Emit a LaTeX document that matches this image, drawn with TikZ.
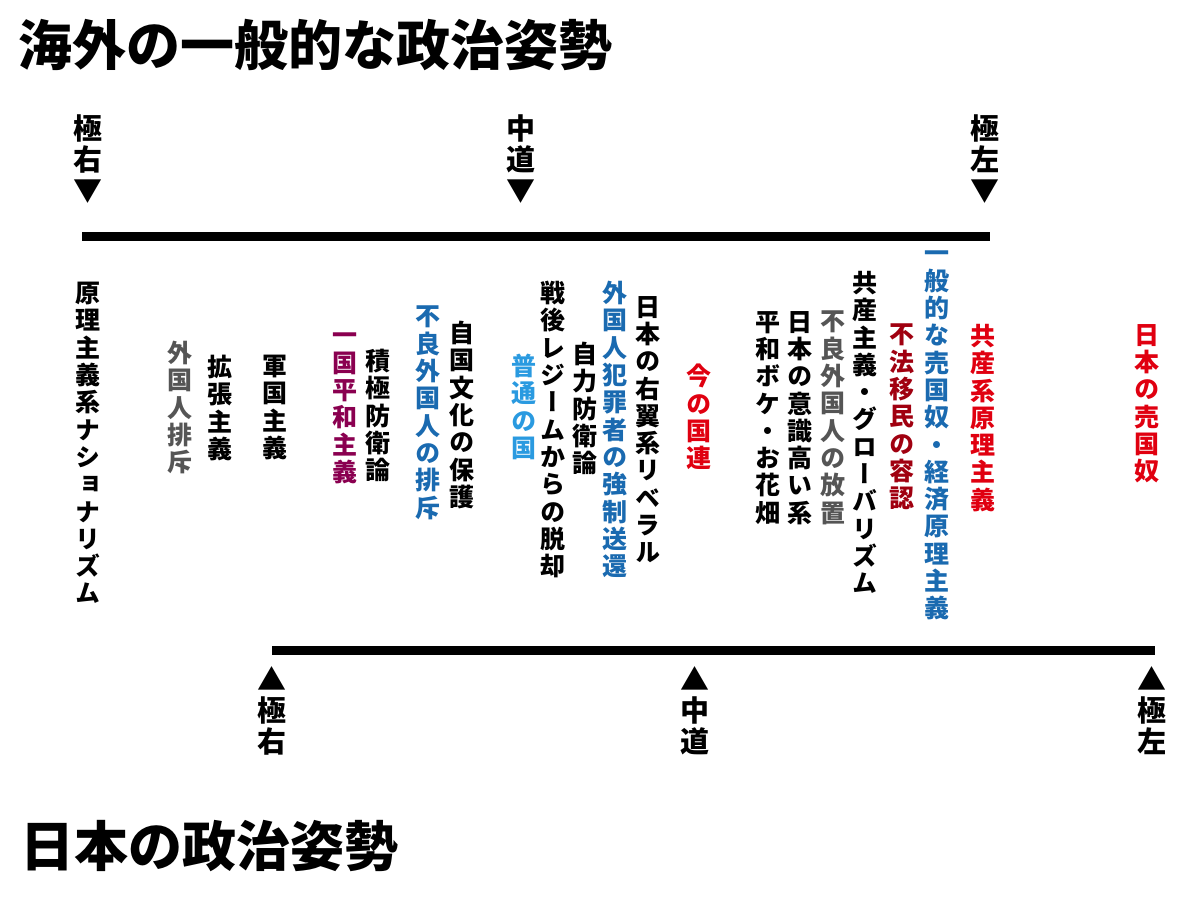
\documentclass[tikz,border=0pt]{standalone}
\usepackage{fontspec}
\newfontfamily\vfont[RawFeature=+vert]{Noto Sans CJK JP}
\newfontfamily\jfont{Noto Sans CJK JP}
\def\vt#1{\vtaux#1\relax}
\def\vtaux#1{#1\futurelet\vtnext\vtcheck}
\def\vtgob#1{}
\def\vtcheck{\ifx\vtnext\relax\expandafter\vtgob\else\\\expandafter\vtaux\fi}
\definecolor{jblue}{HTML}{1A6AB0}
\definecolor{lblue}{HTML}{2A9AE0}
\definecolor{jred}{HTML}{E00010}
\definecolor{dred}{HTML}{A00010}
\definecolor{jpurp}{HTML}{8A0050}
\definecolor{jgray}{HTML}{555555}
\begin{document}
\begin{tikzpicture}[x=1pt,y=-1pt,
  vlab/.style={anchor=north,inner sep=0pt,align=center,font=\vfont\bfseries\fontsize{25}{27.3}\selectfont},
  axlab/.style={anchor=north,inner sep=0pt,align=center,font=\vfont\bfseries\fontsize{29}{31}\selectfont},
  title/.style={anchor=west,inner sep=0pt,font=\jfont\bfseries\fontsize{54}{58}\selectfont},
  axis/.style={line width=9pt}]
\useasboundingbox (0,0) rectangle (1200,900);
\node[title] (t1) at (18,45) {海外の一般的な政治姿勢};
\node[title] (t2) at (20,846) {日本の政治姿勢};
% top axis
\coordinate (a1) at (82,236); \coordinate (a2) at (990,236);
\draw[axis] (a1) -- (a2);
\node[axlab] (l1) at (88,115) {極\\右\\▼};
\node[axlab] (l2) at (521,115) {中\\道\\▼};
\node[axlab] (l3) at (985,115) {極\\左\\▼};
% bottom axis
\coordinate (b1) at (272,650); \coordinate (b2) at (1155,650);
\draw[axis] (b1) -- (b2);
\node[axlab] (m1) at (272,666) {▲\\極\\右};
\node[axlab] (m2) at (695,666) {▲\\中\\道};
\node[axlab] (m3) at (1152,666) {▲\\極\\左};
% labels
\node[vlab] (c1) at (88,282) {\vt{原理主義系ナショナリズム}};
\node[vlab,text=jgray] (c2) at (180,341) {\vt{外国人排斥}};
\node[vlab] (c3) at (220,355) {\vt{拡張主義}};
\node[vlab] (c4) at (275,355) {\vt{軍国主義}};
\node[vlab,text=jpurp] (c5) at (345,333) {\vt{一国平和主義}};
\node[vlab] (c6) at (378,349) {\vt{積極防衛論}};
\node[vlab,text=jblue] (c7) at (428,306) {\vt{不良外国人の排斥}};
\node[vlab] (c8) at (462,321) {\vt{自国文化の保護}};
\node[vlab,text=lblue] (c9) at (524,354) {\vt{普通の国}};
\node[vlab] (c10) at (553,281) {\vt{戦後レジームからの脱却}};
\node[vlab] (c11) at (585,342) {\vt{自力防衛論}};
\node[vlab,text=jblue] (c12) at (615,281) {\vt{外国人犯罪者の強制送還}};
\node[vlab] (c13) at (648,296) {\vt{日本の右翼系リベラル}};
\node[vlab,text=jred] (c14) at (699,364) {\vt{今の国連}};
\node[vlab] (c15) at (768,311) {\vt{平和ボケ・お花畑}};
\node[vlab] (c16) at (800,311) {\vt{日本の意識高い系}};
\node[vlab,text=jgray] (c17) at (833,311) {\vt{不良外国人の放置}};
\node[vlab] (c18) at (865,271) {\vt{共産主義・グローバリズム}};
\node[vlab,text=dred] (c19) at (902,324) {\vt{不法移民の容認}};
\node[vlab,text=jblue] (c20) at (937,251) {\vt{一般的な売国奴・経済原理主義}};
\node[vlab,text=jred] (c21) at (983,324) {\vt{共産系原理主義}};
\node[vlab,text=jred] (c22) at (1147,324) {\vt{日本の売国奴}};
\end{tikzpicture}
\end{document}
